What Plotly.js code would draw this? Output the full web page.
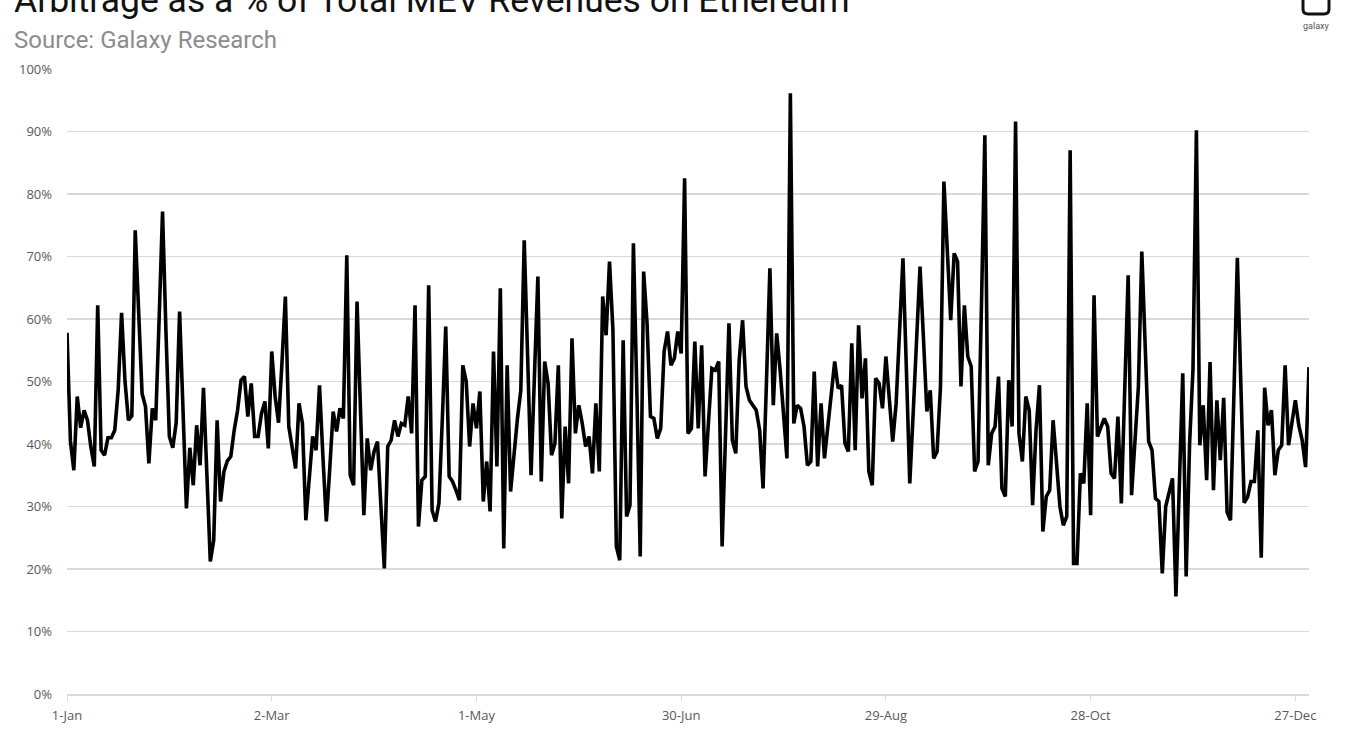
<!DOCTYPE html>
<html>
<head>
<meta charset="utf-8">
<script src="https://cdn.plot.ly/plotly-3.0.1.min.js"></script>
<style>
  html, body { margin: 0; padding: 0; background: #ffffff; }
  #chart { width: 1350px; height: 748px; }
</style>
</head>
<body>
<div id="chart"></div>
<script>
// Arbitrage share of total MEV revenue (%), one value per day, 2023
const janValues = [57.8,40.5,35.8,47.6,42.6,45.4,43.8,39.5,36.4,62.2,39,38.2,41,41,42.2,48.6,61,50,43.8,44.5,74.2,60,48.1,46,36.9,45.7,43.8,60,77.2,58,41.2];
const febValues = [39.4,43.4,61.2,45,29.7,39.4,33.4,43,36.6,49,35,21.2,24.6,43.8,30.8,35.6,37.3,38,42.2,45.4,50.2,50.8,44.4,49.7,41.2,41.2,44.9,46.8];
const marValues = [39.3,54.8,47.6,43.4,53,63.6,42.8,39.5,36.1,46.5,43.3,27.8,34,41.2,39,49.4,38,27.6,36,45.2,42,45.7,44.1,70.2,35,33.4,62.8,45,28.6,40.9,35.8];
const aprValues = [38.8,40.4,30,20.1,39.6,40.6,43.8,41.2,43.3,43,47.6,41.7,62.2,26.8,34.2,34.8,65.4,29.4,27.6,30.5,44,58.8,34.8,34,32.6,31,52.6,50,39.6,46.5];
const mayValues = [42.5,48.4,30.8,37.2,29.2,54.8,36.4,64.9,23.3,52.6,32.4,39,44,48.6,72.6,54,35,51,66.8,34,53.2,49.7,38.2,40.1,52.6,28.1,42.8,33.7,56.9,41.7,46.2];
const junValues = [43.3,39.6,41.2,35.3,46.5,35.6,63.6,57.4,69.2,58.2,23.6,21.4,56.6,28.4,30.2,72.1,48.6,22,67.6,59.3,44.4,44.1,40.9,42.5,54.8,58,52.6,53.7,58,54.5];
const julValues = [82.5,41.7,42.5,56.4,42.5,55.8,34.8,44,52.1,51.8,53.2,23.6,41,59.3,40.6,38.5,53.4,59.8,49.2,47,46.2,45.4,42.2,32.9,50,68.1,46.2,57.7,51.8,45,37.7];
const augValues = [96.1,43.3,46.2,45.7,42.8,36.6,37.2,51.6,36.4,46.5,37.7,43,48,53.2,48.9,49.4,40.1,38.8,56.1,39,59,47.3,53.7,35.6,33.4,50.5,49.7,45.7,54,47,40.4];
const sepValues = [46.5,58,69.7,52,33.7,45,57,68.4,57,45.2,48.6,37.7,38.8,49.2,82,69.7,59.8,70.5,69.2,49.2,62.2,54,52.4,35.6,37.2,62,89.4,36.6,41.7,42.8];
const octValues = [50.8,32.9,31.6,50.2,42.8,91.6,41.7,37.2,47.6,45.4,30.2,42.2,49.4,26,31.6,32.6,43.8,37,30,27,28.4,87,20.9,20.9,35.3,33.7,46.5,28.6,63.8,41.2,42.5];
const novValues = [44.1,42.8,35.3,34.5,44.4,30.5,49,67,31.8,40,49.2,70.8,55,40.4,39,31.3,30.8,19.3,30,32,34.5,15.6,33,51.3,18.8,40,52,90.2,39.8,46.2];
const decValues = [34.2,53.1,32.6,47,37.4,47.4,29.1,27.8,48,69.8,50,30.6,31.5,34,34,42.2,21.8,49,43,45.4,35,39,39.8,52.6,39.8,43.8,47,43,40.6,36.3,52.3];

const startDate = '2023-01-01';
const tickDates = ['2023-01-01','2023-03-02','2023-05-01','2023-06-30','2023-08-29','2023-10-28','2023-12-27'];
const tickLabels = ['1-Jan','2-Mar','1-May','30-Jun','29-Aug','28-Oct','27-Dec'];
const yTicks = [0,10,20,30,40,50,60,70,80,90,100];
const yTickLabels = ['0%','10%','20%','30%','40%','50%','60%','70%','80%','90%','100%'];

const values = [].concat(janValues, febValues, marValues, aprValues, mayValues, junValues,
                         julValues, augValues, sepValues, octValues, novValues, decValues);
const dates = values.map((v, i) => {
  const d = new Date(startDate + 'T00:00:00Z');
  d.setUTCDate(d.getUTCDate() + i);
  return d.toISOString().slice(0, 10);
});

const W = 1350, H = 748;
const mL = 67, mR = 41, mT = 69, mB = 54;
const pw = W - mL - mR, ph = H - mT - mB;
const px = x => (x - mL) / pw;
const py = y => (H - mB - y) / ph;

const trace = {
  type: 'scatter', mode: 'lines',
  x: dates, y: values,
  line: { color: '#000000', width: 3.6, shape: 'linear' },
  hoverinfo: 'skip'
};

const layout = {
  width: W, height: H,
  margin: { l: mL, r: mR, t: mT, b: mB, pad: 0 },
  paper_bgcolor: '#ffffff', plot_bgcolor: '#ffffff',
  showlegend: false,
  font: { family: 'Carlito, "Open Sans", Arial, sans-serif', color: '#595959' },
  xaxis: {
    type: 'date',
    range: [dates[0], dates[dates.length - 1]],
    tickvals: tickDates, ticktext: tickLabels,
    tickfont: { size: 13, color: '#595959', family: '"Open Sans", sans-serif' },
    ticklabelstandoff: 4,
    showgrid: false, zeroline: false,
    showline: true, linecolor: '#d9d9d9', linewidth: 1.5,
    ticks: 'outside', ticklen: 5, tickcolor: '#d9d9d9', tickwidth: 1,
    fixedrange: true
  },
  yaxis: {
    range: [0, 100],
    tickvals: yTicks, ticktext: yTickLabels,
    tickfont: { size: 13, color: '#595959', family: '"Open Sans", sans-serif' },
    ticklabelstandoff: 14,
    showgrid: true, gridcolor: '#d9d9d9', gridwidth: 1.2,
    zeroline: false, showline: false, ticks: '',
    fixedrange: true
  },
  annotations: [
    { text: 'Arbitrage as a % of Total MEV Revenues on Ethereum',
      xref: 'paper', yref: 'paper', x: px(12), y: py(0),
      xanchor: 'left', yanchor: 'middle', showarrow: false,
      font: { family: 'Roboto, sans-serif', size: 35.5, color: '#111111' } },
    { text: 'Source: Galaxy Research',
      xref: 'paper', yref: 'paper', x: px(12), y: py(40),
      xanchor: 'left', yanchor: 'middle', showarrow: false,
      font: { family: 'Roboto, sans-serif', size: 24, color: '#8c8c8c' } },
    { text: 'galaxy',
      xref: 'paper', yref: 'paper', x: px(1316), y: py(26),
      xanchor: 'center', yanchor: 'middle', showarrow: false,
      font: { family: 'Roboto, sans-serif', size: 9, color: '#555555' } }
  ],
  shapes: [
    { type: 'path', xref: 'paper', yref: 'paper',
      path: 'M ' + px(1303) + ' ' + py(-2) + ' L ' + px(1303) + ' ' + py(9) +
            ' Q ' + px(1303) + ' ' + py(14) + ' ' + px(1308) + ' ' + py(14) +
            ' L ' + px(1324) + ' ' + py(14) +
            ' Q ' + px(1329) + ' ' + py(14) + ' ' + px(1329) + ' ' + py(9) +
            ' L ' + px(1329) + ' ' + py(-2),
      line: { color: '#111111', width: 3 }, fillcolor: 'rgba(0,0,0,0)' }
  ]
};

Plotly.newPlot('chart', [trace], layout, { displayModeBar: false, staticPlot: true });
</script>
</body>
</html>
